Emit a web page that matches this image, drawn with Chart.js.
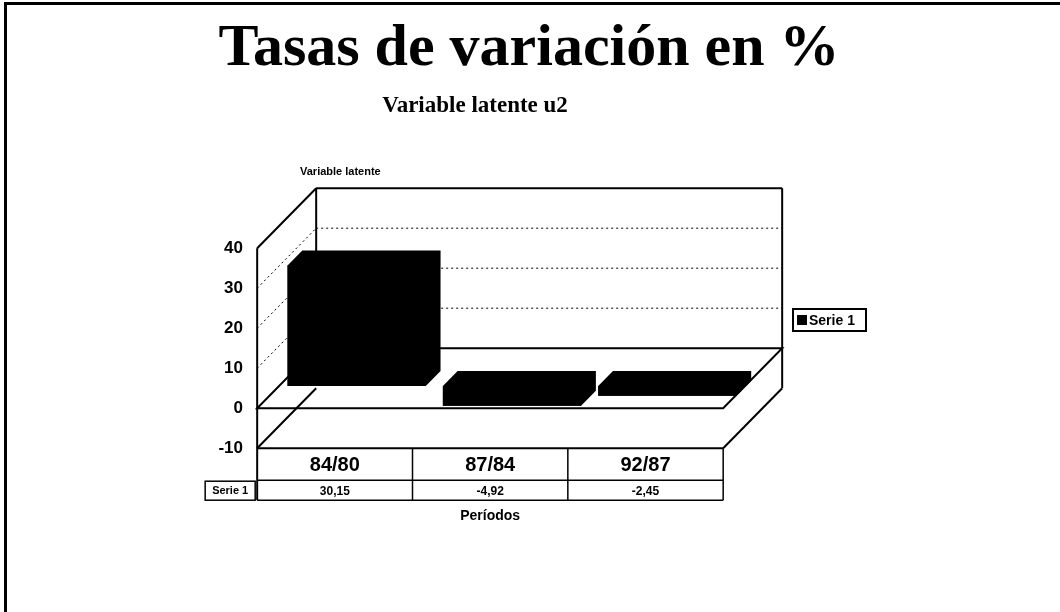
<!DOCTYPE html>
<html>
<head>
<meta charset="utf-8">
<script src="https://cdn.jsdelivr.net/npm/chart.js@4.4.1/dist/chart.umd.min.js"></script>
<style>
  html, body { margin: 0; padding: 0; background: #fff; }
  #marco { position: relative; width: 1060px; height: 612px; overflow: hidden; }
  #marco canvas { position: absolute; left: 0; top: 0; }
  .borde-sup { position: absolute; left: 4px; top: 2px; width: 1056px; height: 3px; background: #000; }
  .borde-izq { position: absolute; left: 4px; top: 2px; width: 3px; height: 610px; background: #000; }
  #titulo, #subtitulo {
    position: absolute; white-space: nowrap; line-height: 1;
    font-family: "Liberation Serif", "Times New Roman", serif; font-weight: bold; color: #000;
    transform: translateX(-50%);
  }
  #titulo { left: 529px; top: 15px; font-size: 60px; }
  #subtitulo { left: 475px; top: 93px; font-size: 23px; }
</style>
</head>
<body>
<div id="marco">
  <canvas id="grafico" width="1060" height="612"></canvas>
  <div class="borde-sup"></div>
  <div class="borde-izq"></div>
  <div id="titulo">Tasas de variación en %</div>
  <div id="subtitulo">Variable latente u2</div>
</div>
<script>
// datos
const periodos = ['84/80', '87/84', '92/87'];
const serie1 = [30.15, -4.92, -2.45];
const ticksY = [-10, 0, 10, 20, 30, 40];
const nombreSerie = 'Serie 1';
const tituloEjeY = 'Variable latente';
const tituloEjeX = 'Períodos';

// perspectiva de la caja 3D (vector de profundidad) y posición de las barras en ella
const FONDO_X = 59, FONDO_Y = -60;
const F1 = 0.37, F2 = 0.62;
const OX = F1 * FONDO_X, OY = F1 * FONDO_Y;

const SANS = '"Liberation Sans", Arial, sans-serif';

function linea(ctx, x1, y1, x2, y2) {
    ctx.beginPath();
    ctx.moveTo(x1, y1);
    ctx.lineTo(x2, y2);
    ctx.stroke();
}

const formatoComa = v => v.toFixed(2).replace('.', ',');

const caja3d = {
    id: 'caja3d',
    beforeDatasetsDraw(chart) {
        const { ctx, chartArea } = chart;
        const y = chart.scales.y;
        const L = chartArea.left - OX, R = chartArea.right - OX;
        const yf = v => y.getPixelForValue(v) - OY;
        const yMax = ticksY[ticksY.length - 1], yMin = ticksY[0];

        ctx.save();
        ctx.strokeStyle = '#000';

        // rejilla punteada (pared izquierda y pared del fondo)
        ctx.lineWidth = 1;
        ctx.setLineDash([2, 3]);
        ticksY.filter(v => v > 0 && v < yMax).forEach(v => {
            linea(ctx, L, yf(v), L + FONDO_X, yf(v) + FONDO_Y);
            linea(ctx, L + FONDO_X, yf(v) + FONDO_Y, R + FONDO_X, yf(v) + FONDO_Y);
        });
        ctx.setLineDash([]);

        ctx.lineWidth = 2;
        // pared del fondo
        linea(ctx, L + FONDO_X, yf(yMax) + FONDO_Y, R + FONDO_X, yf(yMax) + FONDO_Y);
        linea(ctx, R + FONDO_X, yf(yMax) + FONDO_Y, R + FONDO_X, yf(yMin) + FONDO_Y);
        linea(ctx, L + FONDO_X, yf(yMax) + FONDO_Y, L + FONDO_X, yf(0) + FONDO_Y);
        // pared izquierda
        linea(ctx, L, yf(yMax), L + FONDO_X, yf(yMax) + FONDO_Y);
        linea(ctx, L, yf(yMax), L, yf(yMin) + 52);
        // suelo en 0
        ctx.beginPath();
        ctx.moveTo(L, yf(0));
        ctx.lineTo(R, yf(0));
        ctx.lineTo(R + FONDO_X, yf(0) + FONDO_Y);
        ctx.lineTo(L + FONDO_X, yf(0) + FONDO_Y);
        ctx.closePath();
        ctx.stroke();
        // base en -10
        linea(ctx, L, yf(yMin), L + FONDO_X, yf(yMin) + FONDO_Y);
        linea(ctx, L, yf(yMin), R, yf(yMin));
        linea(ctx, R, yf(yMin), R + FONDO_X, yf(yMin) + FONDO_Y);
        ctx.restore();
    },
    afterDatasetsDraw(chart) {
        // caras superior y lateral de cada barra
        const { ctx } = chart;
        const ex = (F2 - F1) * FONDO_X, ey = (F2 - F1) * FONDO_Y;
        ctx.save();
        ctx.fillStyle = '#000';
        chart.getDatasetMeta(0).data.forEach(bar => {
            const p = bar.getProps(['x', 'y', 'base', 'width'], true);
            const x1 = p.x - p.width / 2, x2 = p.x + p.width / 2;
            const arriba = Math.min(p.y, p.base), abajo = Math.max(p.y, p.base);
            ctx.beginPath();
            ctx.moveTo(x1, arriba);
            ctx.lineTo(x1 + ex, arriba + ey);
            ctx.lineTo(x2 + ex, arriba + ey);
            ctx.lineTo(x2 + ex, abajo + ey);
            ctx.lineTo(x2, abajo);
            ctx.lineTo(x1, abajo);
            ctx.closePath();
            ctx.fill();
        });
        ctx.restore();
    },
    afterDraw(chart) {
        const { ctx, chartArea } = chart;
        const x = chart.scales.x, y = chart.scales.y;
        const L = chartArea.left - OX, R = chartArea.right - OX;
        const fila0 = y.getPixelForValue(ticksY[0]) - OY;
        const fila1 = fila0 + 32, fila2 = fila0 + 52;

        ctx.save();
        ctx.strokeStyle = '#000';
        ctx.fillStyle = '#000';
        ctx.lineWidth = 1.5;

        // tabla de datos
        linea(ctx, L, fila1, R, fila1);
        linea(ctx, L, fila2, R, fila2);
        for (let i = 1; i <= periodos.length; i++) {
            const xc = x.getPixelForValue(i - 0.5) - OX;
            linea(ctx, xc, fila0, xc, fila2);
        }
        ctx.textAlign = 'center';
        ctx.textBaseline = 'middle';
        periodos.forEach((p, i) => {
            const xc = x.getPixelForValue(i) - OX;
            ctx.font = 'bold 20px ' + SANS;
            ctx.fillText(p, xc, (fila0 + fila1) / 2 + 1);
            ctx.font = 'bold 12px ' + SANS;
            ctx.fillText(formatoComa(serie1[i]), xc, (fila1 + fila2) / 2 + 1);
        });
        // rótulo de la serie en la tabla
        ctx.strokeRect(L - 52, fila1 + 1, 50, fila2 - fila1 - 1);
        ctx.font = 'bold 11px ' + SANS;
        ctx.fillText(nombreSerie, L - 27, (fila1 + fila2) / 2 + 1);

        // título del eje x
        ctx.font = 'bold 14px ' + SANS;
        ctx.fillText(tituloEjeX, (L + R) / 2, fila2 + 16);

        // título del eje y
        ctx.textAlign = 'left';
        ctx.font = 'bold 11px ' + SANS;
        ctx.fillText(tituloEjeY, 300, 172);

        // leyenda
        ctx.lineWidth = 2;
        ctx.strokeRect(793, 309, 73, 22);
        ctx.fillRect(797, 315, 10, 10);
        ctx.font = 'bold 14px ' + SANS;
        ctx.fillText(nombreSerie, 809, 321);
        ctx.restore();
    }
};

new Chart(document.getElementById('grafico').getContext('2d'), {
    type: 'bar',
    data: {
        labels: periodos,
        datasets: [{
            label: nombreSerie,
            data: serie1,
            backgroundColor: '#000',
            borderWidth: 0,
            categoryPercentage: 0.89,
            barPercentage: 1
        }]
    },
    options: {
        responsive: false,
        animation: false,
        devicePixelRatio: 1,
        layout: { padding: { left: 199, right: 315, top: 226, bottom: 186 } },
        plugins: {
            legend: { display: false },
            tooltip: { enabled: false },
            title: { display: false }
        },
        scales: {
            x: { display: false },
            y: {
                min: ticksY[0],
                max: ticksY[ticksY.length - 1],
                afterFit: s => { s.width = 80; },
                afterBuildTicks: s => { s.ticks = ticksY.map(v => ({ value: v })); },
                grid: { display: false, drawTicks: false },
                border: { display: false },
                ticks: {
                    padding: 36,
                    labelOffset: -OY,
                    color: '#000',
                    font: { family: SANS, weight: 'bold', size: 17 }
                }
            }
        }
    },
    plugins: [caja3d]
});
</script>
</body>
</html>
